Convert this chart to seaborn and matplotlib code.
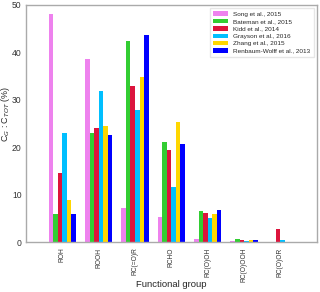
import pandas as pd
import seaborn as sns
import matplotlib.pyplot as plt

# Functional groups and the six studies
groups = ['ROH', 'ROOH', 'RC(=O)R', 'RCHO', 'RC(O)OH', 'RC(O)OOH', 'RC(O)OR']
studies = ['Song et al., 2015', 'Bateman et al., 2015', 'Kidd et al., 2014',
           'Grayson et al., 2016', 'Zhang et al., 2015', 'Renbaum-Wolff et al., 2013']

song = [48.0, 38.7, 7.2, 5.2, 0.6, 0.15, 0.0]
bateman = [5.9, 23.0, 42.5, 21.2, 6.6, 0.6, 0.0]
kidd = [14.5, 24.1, 32.9, 19.4, 6.2, 0.4, 2.7]
grayson = [22.9, 31.8, 27.8, 11.6, 5.1, 0.2, 0.5]
zhang = [8.9, 24.4, 34.8, 25.3, 6.0, 0.5, 0.0]
renbaum = [5.9, 22.5, 43.7, 20.6, 6.8, 0.5, 0.0]

colors = ['#EE82EE', '#32CD32', '#DC143C', '#00BFFF', '#FFD700', '#0000FF']

rows = []
for study, vals in zip(studies, [song, bateman, kidd, grayson, zhang, renbaum]):
    for g, v in zip(groups, vals):
        rows.append({'group': g, 'study': study, 'value': v})
df = pd.DataFrame(rows)

sns.set_style('white')
plt.rcParams['font.family'] = ['Liberation Sans', 'DejaVu Sans']

fig = plt.figure(figsize=(3.2, 2.92), dpi=100)
ax = fig.add_axes([0.081, 0.171, 0.909, 0.812])
sns.barplot(data=df, x='group', y='value', hue='study', palette=colors,
            width=0.75, linewidth=0, saturation=1, ax=ax)

ax.set_xlim(-1, 7)
ax.set_ylim(0, 50)
ax.set_yticks([0, 10, 20, 30, 40, 50])
ax.tick_params(axis='y', labelsize=6.2, length=2, color='#999999', pad=1,
               labelcolor='#333333')
ax.tick_params(axis='x', labelsize=4.8, length=2, color='#999999', rotation=90,
               pad=2, labelcolor='#333333')
for s in ax.spines.values():
    s.set_color('#aaaaaa')
    s.set_linewidth(1.0)

ax.set_xlabel('Functional group', fontsize=6.8)
ax.xaxis.set_label_coords(0.5, -0.16)
ax.set_ylabel(r'C$_{G}$ : C$_{TOT}$ (%)', fontsize=6.4)
ax.yaxis.set_label_coords(-0.048, 0.54)

ax.legend(loc='upper right', fontsize=4.6, frameon=True, handlelength=2.2,
          handleheight=0.7, handletextpad=0.9, borderpad=0.5, labelspacing=0.3,
          borderaxespad=0.5, fancybox=False, edgecolor='#e0e0e0')

plt.savefig('out.png', dpi=100)
